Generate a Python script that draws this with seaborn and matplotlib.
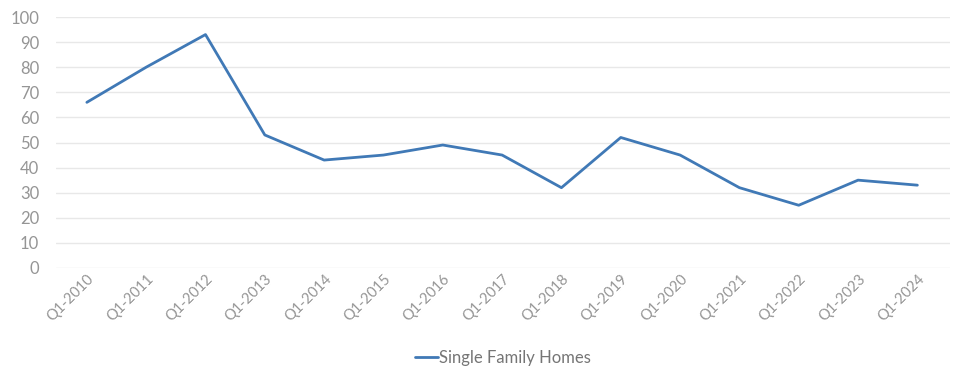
import matplotlib
matplotlib.use("Agg")
import matplotlib.pyplot as plt
import seaborn as sns
import pandas as pd

categories = ["Q1-2010", "Q1-2011", "Q1-2012", "Q1-2013", "Q1-2014", "Q1-2015", "Q1-2016",
              "Q1-2017", "Q1-2018", "Q1-2019", "Q1-2020", "Q1-2021", "Q1-2022", "Q1-2023", "Q1-2024"]
values = [66, 80, 93, 53, 43, 45, 49, 45, 32, 52, 45, 32, 25, 35, 33]
series_name = "Single Family Homes"
y_ticks = [0, 10, 20, 30, 40, 50, 60, 70, 80, 90, 100]

sns.set_theme(style="white")
plt.rcParams['font.family'] = ['Lato', 'DejaVu Sans']

df = pd.DataFrame({"Quarter": categories, "Value": values, "Series": series_name})

fig = plt.figure(figsize=(9.6, 3.73), dpi=100)
ax = fig.add_axes([56/960, 1 - 268/373, (950 - 56)/960, (268 - 17)/373])

sns.lineplot(data=df, x="Quarter", y="Value", hue="Series", palette=["#4079b6"],
             linewidth=2, ax=ax, sort=False)

ax.set_xlim(-0.52, len(categories) - 0.45)
ax.set_ylim(0, 100)
ax.set_yticks(y_ticks)
ax.set_yticklabels([str(t) for t in y_ticks])
ax.grid(axis="y", color="#e8e8e8", linewidth=1)
ax.set_axisbelow(True)
for s in ax.spines.values():
    s.set_visible(False)
ax.set_xlabel("")
ax.set_ylabel("")
ax.tick_params(axis="y", labelsize=12, colors="#959595", length=0, pad=12)
ax.tick_params(axis="x", labelsize=10.5, colors="#959595", length=0, pad=3)
plt.setp(ax.get_xticklabels(), rotation=45, ha="right", rotation_mode="anchor")

leg = ax.legend(loc="upper center", bbox_to_anchor=(0.5, -0.265), frameon=False,
                fontsize=12, handlelength=1.4, handletextpad=0.05)
for t in leg.get_texts():
    t.set_color("#757575")

fig.savefig("out.png", dpi=100)
